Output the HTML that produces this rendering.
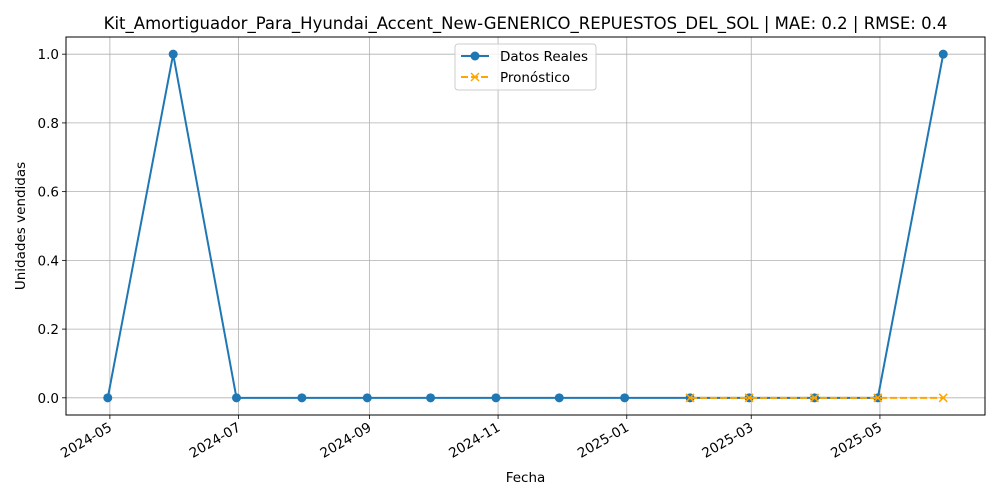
<!DOCTYPE html>
<html><head><meta charset="utf-8"><style>
body{margin:0;background:#fff;}
svg{display:block;font-family:"DejaVu Sans","Liberation Sans",sans-serif;}
</style></head><body>
<svg id="chart" width="1000" height="500"></svg>
<script>
const actualDates=["2024-04-30","2024-05-31","2024-06-30","2024-07-31","2024-08-31","2024-09-30","2024-10-31","2024-11-30","2024-12-31","2025-01-31","2025-02-28","2025-03-31","2025-04-30","2025-05-31"];
const actualValues=[0,1,0,0,0,0,0,0,0,0,0,0,0,1];
const forecastDates=["2025-01-31","2025-02-28","2025-03-31","2025-04-30","2025-05-31"];
const forecastValues=[0,0,0,0,0];
const xTickLabels=["2024-05","2024-07","2024-09","2024-11","2025-01","2025-03","2025-05"];
const yTicks=[0,0.2,0.4,0.6,0.8,1.0];

const NS="http://www.w3.org/2000/svg";
const svg=document.getElementById('chart');
const L=66,R=985,T=37,B=415;
const day=s=>Date.parse(s+"T00:00:00Z")/86400000;
const d0=day(actualDates[0]),d1=day(actualDates[actualDates.length-1]);
const pad=(d1-d0)*0.05;
const xs=s=>L+(day(s)-(d0-pad))/((d1-d0)+2*pad)*(R-L);
const ys=v=>B-(v+0.05)/1.1*(B-T);
function el(tag,attrs,parent){const e=document.createElementNS(NS,tag);for(const k in attrs)e.setAttribute(k,attrs[k]);(parent||svg).appendChild(e);return e;}

const grid=el('g',{});


xTickLabels.forEach(t=>{
  const x=xs(t+"-01");
  el('line',{x1:x,x2:x,y1:T,y2:B,stroke:'#b0b0b0','stroke-width':0.8},grid);
  el('line',{x1:x,x2:x,y1:B,y2:B+4,stroke:'#000','stroke-width':0.8});
  const tx=el('text',{x:x+3,y:B+15,'font-size':13.5,'text-anchor':'end',transform:`rotate(-30 ${x+3} ${B+15})`});
  tx.textContent=t;
  
  
});
yTicks.forEach(v=>{
  const y=ys(v);
  el('line',{x1:L,x2:R,y1:y,y2:y,stroke:'#b0b0b0','stroke-width':0.8},grid);
  el('line',{x1:L-4,x2:L,y1:y,y2:y,stroke:'#000','stroke-width':0.8});
  const tx=el('text',{x:L-7,y:y+5,'font-size':13.5,'text-anchor':'end'});
  tx.textContent=v.toFixed(1);
  
  
});

const ap=actualDates.map((d,i)=>xs(d)+','+ys(actualValues[i])).join(' ');
const aLine=el('polyline',{points:ap,fill:'none',stroke:'#1f77b4','stroke-width':2});


actualDates.forEach((d,i)=>{
  const c=el('circle',{cx:xs(d),cy:ys(actualValues[i]),r:4.5,fill:'#1f77b4'});
  
  
});
const fp=forecastDates.map((d,i)=>xs(d)+','+ys(forecastValues[i])).join(' ');
const fLine=el('polyline',{points:fp,fill:'none',stroke:'#ffa500','stroke-width':2,'stroke-dasharray':'7,3'});


forecastDates.forEach((d,i)=>{
  const x=xs(d),y=ys(forecastValues[i]);
  const g=el('path',{d:`M${x-4},${y-4}L${x+4},${y+4}M${x-4},${y+4}L${x+4},${y-4}`,stroke:'#ffa500','stroke-width':1.5});
  
  
});

const frame=el('rect',{x:L,y:T,width:R-L,height:B-T,fill:'none',stroke:'#000','stroke-width':1});



const title=el('text',{x:525.5,y:29,'font-size':16.5,'text-anchor':'middle'});
title.textContent="Kit_Amortiguador_Para_Hyundai_Accent_New-GENERICO_REPUESTOS_DEL_SOL | MAE: 0.2 | RMSE: 0.4";


const xt=el('text',{x:525.5,y:482,'font-size':13.5,'text-anchor':'middle'});
xt.textContent="Fecha";


const yt=el('text',{x:25,y:226,'font-size':13.5,'text-anchor':'middle',transform:'rotate(-90 25 226)'});
yt.textContent="Unidades vendidas";



const lg=el('g',{});


el('rect',{x:455,y:44,width:141,height:46,rx:3,fill:'#fff','fill-opacity':0.8,stroke:'#ccc'},lg);
el('line',{x1:461,x2:489,y1:56,y2:56,stroke:'#1f77b4','stroke-width':2},lg);
el('circle',{cx:475,cy:56,r:4.5,fill:'#1f77b4'},lg);
const l1=el('text',{x:500,y:61,'font-size':13.5},lg);l1.textContent="Datos Reales";


el('line',{x1:461,x2:489,y1:77,y2:77,stroke:'#ffa500','stroke-width':2,'stroke-dasharray':'7,3'},lg);
el('path',{d:'M471,73L479,81M471,81L479,73',stroke:'#ffa500','stroke-width':1.5},lg);
const l2=el('text',{x:500,y:82,'font-size':13.5},lg);l2.textContent="Pronóstico";


</script>
</body></html>
